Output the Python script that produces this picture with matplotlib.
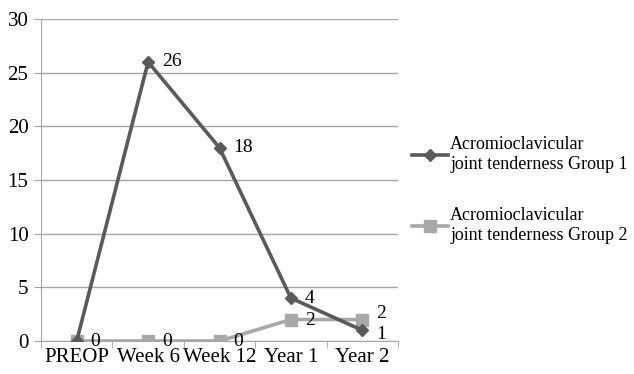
import matplotlib.pyplot as plt
import numpy as np

# follow-up time points and tenderness counts
visits = ['PREOP', 'Week 6', 'Week 12', 'Year 1', 'Year 2']
group1 = [0, 26, 18, 4, 1]
group2 = [0, 0, 0, 2, 2]
label1 = 'Acromioclavicular\njoint tenderness Group 1'
label2 = 'Acromioclavicular\njoint tenderness Group 2'

plt.rcParams['font.family'] = ['Liberation Serif', 'DejaVu Serif']
plt.rcParams['font.size'] = 15

c1 = '#5a5a5a'
c2 = '#a8a8a8'
gridc = '#a6a6a6'

fig = plt.figure(figsize=(6.34, 3.74), dpi=100)
ax = fig.add_axes([41/634, 1-341/374, 357/634, 322/374])

x = np.arange(len(visits))
ax.plot(x, group1, '-D', color=c1, lw=2.6, ms=6, label=label1, zorder=3)
ax.plot(x, group2, '-s', color=c2, lw=2.6, ms=9, label=label2, zorder=2)

# value labels; the last two are nudged apart so they stack
dy1 = [0, 0, 0, 0, -3]
dy2 = [0, 0, 0, -1, 4]
for xi, v, d in zip(x, group1, dy1):
    if v > 0:
        ax.annotate(str(v), (xi, v), xytext=(10, d), textcoords='offset points',
                    va='center', ha='left', fontsize=14)
for xi, v, d in zip(x, group2, dy2):
    ax.annotate(str(v), (xi, v), xytext=(10, d), textcoords='offset points',
                va='center', ha='left', fontsize=14)

ax.set_xlim(-0.5, len(visits) - 0.5)
ax.set_ylim(0, 30)
ax.set_yticks(range(0, 31, 5))
ax.set_xticks(x)
ax.set_xticklabels(visits)
ax.set_xticks(np.arange(-0.5, len(visits), 1), minor=True)
ax.tick_params(axis='x', which='major', length=0, pad=5)
ax.tick_params(axis='x', which='minor', length=5, color=gridc, direction='out')
ax.tick_params(axis='y', length=5, color=gridc, direction='out', pad=4)
ax.yaxis.grid(True, color=gridc, lw=1)
ax.set_axisbelow(True)
for s in ['top', 'right']:
    ax.spines[s].set_visible(False)
ax.spines['left'].set_color(gridc)
ax.spines['bottom'].set_color(gridc)

fig.legend(loc='center left', bbox_to_anchor=(396/634, 1-190/374), frameon=False,
           handlelength=2.0, handletextpad=0.1, labelspacing=1.9, fontsize=13)

fig.savefig('out.png', dpi=100)
